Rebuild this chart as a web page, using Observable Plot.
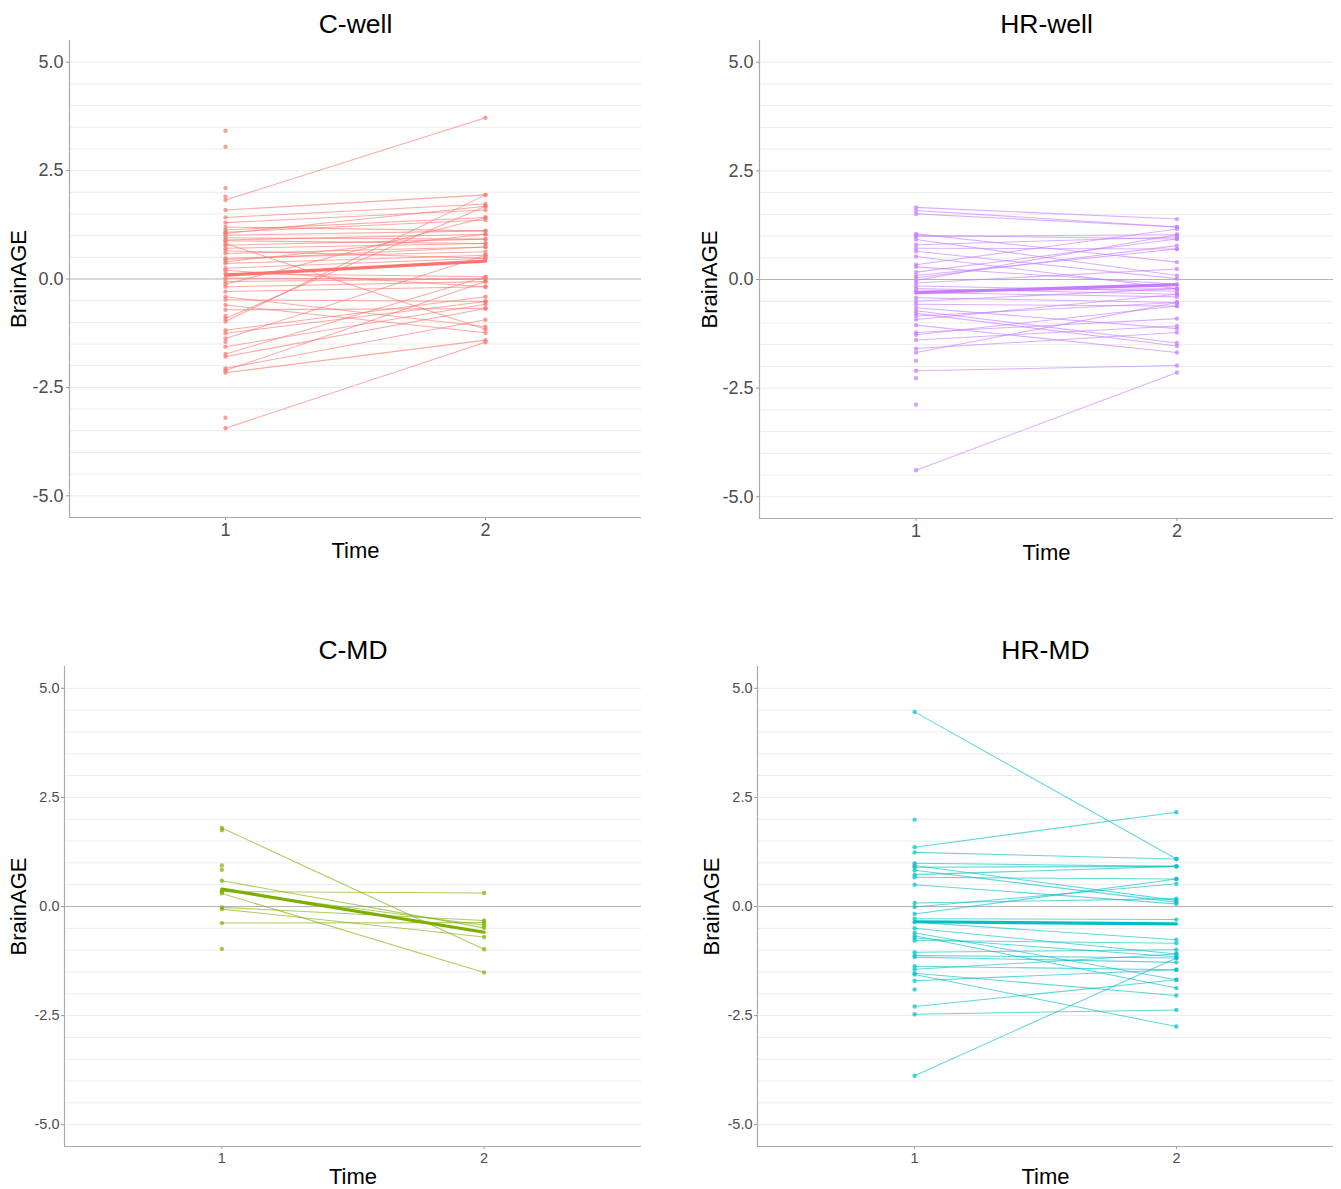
<!DOCTYPE html>
<html><head><meta charset="utf-8">
<script src="https://cdn.jsdelivr.net/npm/d3@7"></script>
<script src="https://cdn.jsdelivr.net/npm/@observablehq/plot@0.6"></script>
<style>
body{margin:0;background:#fff;}
#wrap{position:relative;width:1341px;height:1189px;overflow:hidden;background:#fff;font-family:"Liberation Sans",Arial,sans-serif;}
#wrap > svg{position:absolute;}
</style></head><body><div id="wrap"></div>
<script>
// ---- data ----
const TIMES = [1, 2];
const TIME_LABELS = ["1", "2"];
const Y_TICKS = [-5, -2.5, 0, 2.5, 5];
const Y_TICK_LABELS = ["-5.0", "-2.5", "0.0", "2.5", "5.0"];
const GRID = [-5, -4.5, -4, -3.5, -3, -2.5, -2, -1.5, -1, -0.5, 0.5, 1, 1.5, 2, 2.5, 3, 3.5, 4, 4.5, 5];
const groupNames = ["C-well", "HR-well", "C-MD", "HR-MD"];
const groupColors = ["#F8766D", "#C77CFF", "#7CAE00", "#00BFC4"];

const cWellT1 = [1.82, 1.59, 1.42, 1.30, 1.13, 1.08, 1.01, 0.90, 0.78, 0.71, 0.59, 0.48, 0.36, 0.25, 0.13, -0.06, -0.18, -0.29, -0.41, 0.82, -0.60, -0.98, -0.91, -1.18, -1.25, -1.37, -1.56, -1.73, -1.79, -2.06, -2.11, -2.16, -3.44, -0.48, -0.71, 1.05, 0.95, 0.65, 0.40, 0.20, 0.02, -0.12, 1.20, 0.45, 0.88, 3.42, 3.05, 2.10, 1.90, -3.20, -0.85, -1.45];
const cWellT2 = [3.72, 1.94, 1.73, 1.59, 1.42, 1.36, 1.11, 1.03, 0.92, 0.82, 0.74, 0.63, 0.55, 0.48, 0.05, 0.00, -0.06, -0.18, -1.10, -1.16, -1.24, 1.94, 1.68, -0.41, -0.52, 0.55, -0.58, 0.05, -0.68, -0.94, -0.06, -1.41, -1.46, -0.52, -0.68, 1.68, 0.92, 0.48, 1.03, -0.18, 0.00, 1.42, 1.11, 0.74, 0.82, null, null, null, null, null, null, null];

const hrWellT1 = [1.66, 1.51, 1.05, 0.99, 0.92, 0.80, 0.72, 0.53, 0.34, 0.17, 0.04, -0.02, -0.08, -0.15, -0.21, -0.42, -0.50, -0.57, -0.72, -0.78, -0.84, -1.22, -1.27, -1.39, -1.59, -1.68, -2.10, -4.39, 0.65, 0.29, -0.65, -0.92, -1.05, 1.59, 0.09, -0.27, -0.30, 1.02, -2.88, -2.27, -1.87];
const hrWellT2 = [1.39, 1.21, 0.40, 1.03, 0.09, 0.98, 0.70, -0.21, 1.16, 0.93, 0.78, 1.03, 0.24, -0.27, -0.34, -0.53, -0.21, -0.61, -1.46, -1.53, -0.53, -0.90, -0.61, -1.07, -1.22, -0.53, -1.98, -2.14, 0.02, -0.11, -1.13, -0.34, -1.68, 1.21, 0.70, -0.21, -0.40, 0.93, null, null, null];

const cMdT1 = [1.80, 0.59, 0.34, 0.30, 0.36, -0.02, -0.06, -0.38, 1.75, 0.94, 0.84, -0.97];
const cMdT2 = [-0.98, -0.49, 0.31, -1.51, -0.43, -0.32, -0.70, -0.37, null, null, null, null];

const hrMdT1 = [4.46, 1.36, 1.24, 0.99, 0.94, 0.90, 0.83, 0.73, 0.67, 0.50, 0.08, -0.01, -0.17, -0.28, -0.36, -0.50, -0.60, -0.67, -0.72, -0.78, -1.05, -1.12, -1.16, -1.37, -1.44, -1.53, -1.56, -1.70, -2.29, -2.47, -3.88, 1.99, -1.90];
const hrMdT2 = [1.09, 2.16, 1.09, 0.92, 0.14, 0.92, 0.10, 0.92, 0.63, 0.06, 0.18, 0.52, 0.63, -0.30, -0.76, -1.09, -1.68, -1.87, -1.15, -0.84, -0.99, -1.18, -1.28, -1.45, -1.09, -2.04, -2.75, -1.45, -1.68, -2.37, -1.18, null, null];

const meanT1 = [0.09, -0.30, 0.40, -0.35];
const meanT2 = [0.41, -0.12, -0.59, -0.40];

// ---- layout ----
const layouts = [
  {left: 0,   top: 0,   width: 665, height: 575, ml: 69, mr: 24, mt: 40, mb: 58, titleDy: -16, timeDy: 33, yLabDx: -51, fs: 18, pad: 3},
  {left: 690, top: 0,   width: 651, height: 575, ml: 69, mr: 8,  mt: 40, mb: 57, titleDy: -16, timeDy: 34, yLabDx: -50, fs: 18, pad: 3},
  {left: 0,   top: 620, width: 665, height: 569, ml: 64, mr: 24, mt: 46, mb: 43, titleDy: -16, timeDy: 30, yLabDx: -46, fs: 14.5, pad: 2},
  {left: 690, top: 620, width: 651, height: 569, ml: 67, mr: 8,  mt: 46, mb: 43, titleDy: -16, timeDy: 30, yLabDx: -46, fs: 14.5, pad: 2}
];
const series = [[cWellT1, cWellT2], [hrWellT1, hrWellT2], [cMdT1, cMdT2], [hrMdT1, hrMdT2]];
const FONT = '"Liberation Sans", Arial, sans-serif';

function panel(i) {
  const [T1, T2] = series[i];
  const L = layouts[i];
  const color = groupColors[i];
  const subjects = T1.map((v, k) => ({t1: v, t2: T2[k]}));
  const pairs = subjects.filter(d => d.t1 != null && d.t2 != null);
  const pts = [];
  subjects.forEach(d => {
    if (d.t1 != null) pts.push({time: TIMES[0], value: d.t1});
    if (d.t2 != null) pts.push({time: TIMES[1], value: d.t2});
  });
  const means = [{time: TIMES[0], value: meanT1[i]}, {time: TIMES[1], value: meanT2[i]}];
  const svg = Plot.plot({
    width: L.width, height: L.height,
    marginLeft: L.ml, marginRight: L.mr, marginTop: L.mt, marginBottom: L.mb,
    style: {fontFamily: FONT, background: "transparent", overflow: "visible"},
    x: {domain: [0.4, 2.6], axis: null},
    y: {domain: [-5.5, 5.5], axis: null},
    marks: [
      Plot.ruleY(GRID, {stroke: "#ebebeb", strokeWidth: 1}),
      Plot.ruleY([0], {stroke: "#b4b4b4", strokeWidth: 1.2}),
      Plot.link(pairs, {x1: () => TIMES[0], y1: "t1", x2: () => TIMES[1], y2: "t2", stroke: color, strokeOpacity: 0.62, strokeWidth: 1.05}),
      Plot.dot(pts, {x: "time", y: "value", r: 2.2, fill: color, fillOpacity: 0.7, stroke: "none"}),
      Plot.line(means, {x: "time", y: "value", stroke: color, strokeWidth: 3.2}),
      Plot.ruleX([0.4], {stroke: "#ababab", strokeWidth: 1.2}),
      Plot.ruleY([-5.5], {stroke: "#ababab", strokeWidth: 1.2}),
      Plot.axisX(TIMES, {tickSize: 3, tickPadding: 3, fontSize: L.fs, stroke: "#999", fill: "#4d4d4d", tickFormat: d => TIME_LABELS[TIMES.indexOf(d)], label: null}),
      Plot.axisY(Y_TICKS, {tickSize: 3, tickPadding: L.pad, fontSize: L.fs, stroke: "#999", fill: "#4d4d4d", tickFormat: d => Y_TICK_LABELS[Y_TICKS.indexOf(d)], label: null}),
      Plot.text([groupNames[i]], {text: d => d, frameAnchor: "top", lineAnchor: "middle", dy: L.titleDy, fontSize: 26.5, fill: "#000"}),
      Plot.text(["Time"], {text: d => d, frameAnchor: "bottom", lineAnchor: "middle", dy: L.timeDy, fontSize: 22, fill: "#000"}),
      Plot.text(["BrainAGE"], {text: d => d, frameAnchor: "left", lineAnchor: "middle", textAnchor: "middle", rotate: -90, dx: L.yLabDx, fontSize: 22, fill: "#000"})
    ]
  });
  svg.style.left = L.left + "px";
  svg.style.top = L.top + "px";
  return svg;
}
const wrap = document.getElementById("wrap");
for (let i = 0; i < 4; i++) wrap.appendChild(panel(i));
</script>
</body></html>
